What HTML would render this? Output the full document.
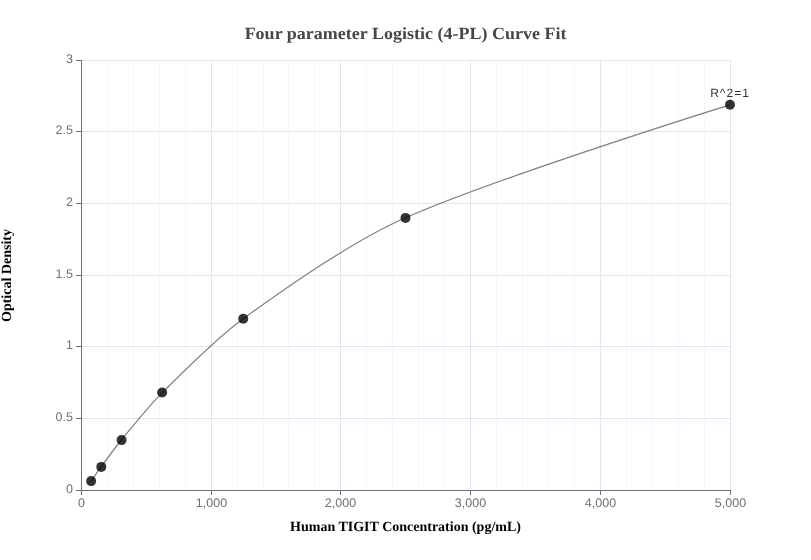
<!DOCTYPE html>
<html><head><meta charset="utf-8"><style>
html,body{margin:0;padding:0;background:#fff;width:811px;height:560px;overflow:hidden}
svg{display:block;will-change:transform} text{text-rendering:geometricPrecision}
</style></head><body>
<svg width="811" height="560" viewBox="0 0 811 560">
<rect width="811" height="560" fill="#fff"/>
<g stroke="#F4F7FD" stroke-width="1"><line x1="107.5" y1="60" x2="107.5" y2="490"/><line x1="133.5" y1="60" x2="133.5" y2="490"/><line x1="159.5" y1="60" x2="159.5" y2="490"/><line x1="185.5" y1="60" x2="185.5" y2="490"/><line x1="237.5" y1="60" x2="237.5" y2="490"/><line x1="263.5" y1="60" x2="263.5" y2="490"/><line x1="288.5" y1="60" x2="288.5" y2="490"/><line x1="314.5" y1="60" x2="314.5" y2="490"/><line x1="366.5" y1="60" x2="366.5" y2="490"/><line x1="392.5" y1="60" x2="392.5" y2="490"/><line x1="418.5" y1="60" x2="418.5" y2="490"/><line x1="444.5" y1="60" x2="444.5" y2="490"/><line x1="496.5" y1="60" x2="496.5" y2="490"/><line x1="522.5" y1="60" x2="522.5" y2="490"/><line x1="548.5" y1="60" x2="548.5" y2="490"/><line x1="574.5" y1="60" x2="574.5" y2="490"/><line x1="626.5" y1="60" x2="626.5" y2="490"/><line x1="652.5" y1="60" x2="652.5" y2="490"/><line x1="678.5" y1="60" x2="678.5" y2="490"/><line x1="704.5" y1="60" x2="704.5" y2="490"/></g>
<g stroke="#E0E6F1" stroke-width="1"><line x1="211.5" y1="60" x2="211.5" y2="490"/><line x1="340.5" y1="60" x2="340.5" y2="490"/><line x1="470.5" y1="60" x2="470.5" y2="490"/><line x1="600.5" y1="60" x2="600.5" y2="490"/><line x1="730.5" y1="60" x2="730.5" y2="490"/><line x1="81" y1="418.5" x2="730" y2="418.5"/><line x1="81" y1="346.5" x2="730" y2="346.5"/><line x1="81" y1="275.5" x2="730" y2="275.5"/><line x1="81" y1="203.5" x2="730" y2="203.5"/><line x1="81" y1="131.5" x2="730" y2="131.5"/><line x1="81" y1="60.5" x2="730" y2="60.5"/></g>
<g stroke="#6E7079" stroke-width="1">
<line x1="81.5" y1="60" x2="81.5" y2="490.5"/>
<line x1="81" y1="490.5" x2="730.5" y2="490.5"/>
<line x1="76" y1="490.5" x2="81" y2="490.5"/><line x1="76" y1="418.5" x2="81" y2="418.5"/><line x1="76" y1="346.5" x2="81" y2="346.5"/><line x1="76" y1="275.5" x2="81" y2="275.5"/><line x1="76" y1="203.5" x2="81" y2="203.5"/><line x1="76" y1="131.5" x2="81" y2="131.5"/><line x1="76" y1="60.5" x2="81" y2="60.5"/><line x1="81.5" y1="490" x2="81.5" y2="495"/><line x1="211.5" y1="490" x2="211.5" y2="495"/><line x1="340.5" y1="490" x2="340.5" y2="495"/><line x1="470.5" y1="490" x2="470.5" y2="495"/><line x1="600.5" y1="490" x2="600.5" y2="495"/><line x1="730.5" y1="490" x2="730.5" y2="495"/>
</g>
<g font-family="Liberation Sans, sans-serif" font-size="12.5" fill="#6E7079"><text x="73" y="492.75" text-anchor="end">0</text><text x="73" y="421.08" text-anchor="end">0.5</text><text x="73" y="349.42" text-anchor="end">1</text><text x="73" y="277.75" text-anchor="end">1.5</text><text x="73" y="206.08" text-anchor="end">2</text><text x="73" y="134.42" text-anchor="end">2.5</text><text x="73" y="62.75" text-anchor="end">3</text><text x="81.5" y="507.1" text-anchor="middle">0</text><text x="211.5" y="507.1" text-anchor="middle">1,000</text><text x="340.5" y="507.1" text-anchor="middle">2,000</text><text x="470.5" y="507.1" text-anchor="middle">3,000</text><text x="600.5" y="507.1" text-anchor="middle">4,000</text><text x="730.5" y="507.1" text-anchor="middle">5,000</text></g>
<path d="M91.141 481.349C91.141 481.349 98.128 471.022 101.281 466.710C107.254 458.543 115.131 447.561 121.562 439.754C133.385 425.402 148.955 405.945 162.125 392.847C185.462 369.637 216.594 337.904 243.250 318.728C289.607 285.380 353.310 240.698 405.500 217.765C499.335 176.534 730.000 104.846 730.000 104.846" fill="none" stroke="#555" stroke-opacity="0.75" stroke-width="1.25"/>
<g fill="#000" fill-opacity="0.8"><circle cx="91.14" cy="481.1" r="5"/><circle cx="101.28" cy="466.9" r="5"/><circle cx="121.56" cy="440.1" r="5"/><circle cx="162.12" cy="392.5" r="5"/><circle cx="243.25" cy="318.7" r="5"/><circle cx="405.50" cy="217.9" r="5"/><circle cx="730.00" cy="104.8" r="5"/></g>
<text x="730" y="97" text-anchor="middle" letter-spacing="1" font-family="Liberation Sans, sans-serif" font-size="12" fill="#333">R^2=1</text>
<text transform="translate(405.5,38.8) scale(1,0.95)" x="0" y="0" text-rendering="geometricPrecision" text-anchor="middle" font-family="Liberation Serif, serif" font-weight="bold" font-size="18" fill="#464646">Four parameter Logistic (4-PL) Curve Fit</text>
<text x="405.5" y="531" text-anchor="middle" font-family="Liberation Serif, serif" font-weight="bold" font-size="14" fill="#000">Human TIGIT Concentration (pg/mL)</text>
<text transform="translate(11,275.5) rotate(-90)" text-anchor="middle" font-family="Liberation Serif, serif" font-weight="bold" font-size="14" fill="#000">Optical Density</text>
</svg>
</body></html>
